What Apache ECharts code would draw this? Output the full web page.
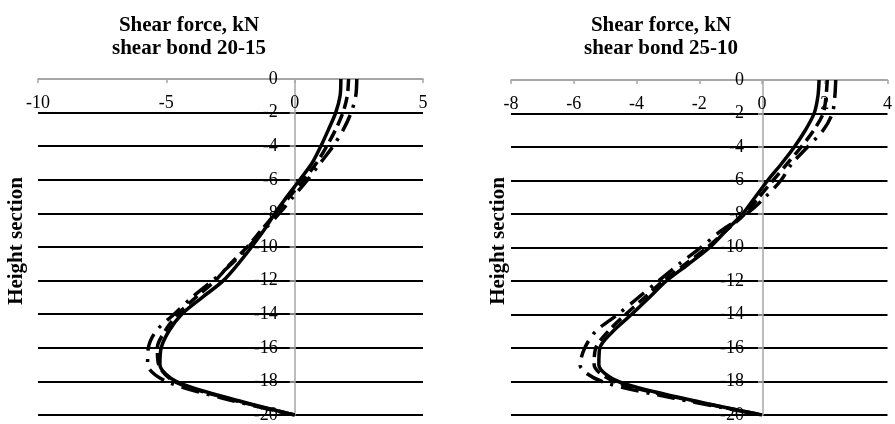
<!DOCTYPE html>
<html>
<head>
<meta charset="utf-8">
<script src="https://cdn.jsdelivr.net/npm/echarts@6/dist/echarts.min.js"></script>
<style>
  html, body { margin: 0; padding: 0; background: #fff; }
  #chart { width: 895px; height: 424px; }
</style>
</head>
<body>
<div id="chart"></div>
<script>
// 高度截面 (y)
const heights = [0, -1, -2, -3, -4, -5, -6, -7, -8, -9, -10, -11, -12, -13, -14, -15, -16, -17, -18, -19, -20];

// shear bond 20-15
const leftSolid = [1.8, 1.77, 1.6, 1.32, 1.02, 0.68, 0.2, -0.3, -0.77, -1.2, -1.68, -2.2, -2.78, -3.6, -4.4, -4.9, -5.2, -5.25, -4.62, -2.55, 0];
const leftDash = [2.1, 2.05, 1.88, 1.6, 1.25, 0.85, 0.35, -0.2, -0.75, -1.3, -1.85, -2.5, -3.1, -3.85, -4.55, -5.05, -5.35, -5.3, -4.7, -2.65, 0];
const leftDashDot = [2.42, 2.38, 2.2, 1.9, 1.5, 1.0, 0.5, -0.05, -0.6, -1.2, -1.8, -2.45, -3.2, -4.0, -4.7, -5.4, -5.7, -5.73, -5.0, -2.8, 0];

// shear bond 25-10
const rightSolid = [1.82, 1.78, 1.66, 1.38, 1.03, 0.62, 0.18, -0.22, -0.62, -1.15, -1.67, -2.35, -3.05, -3.6, -4.16, -4.75, -5.17, -5.2, -4.58, -2.52, 0];
const rightDash = [2.08, 2.04, 1.95, 1.65, 1.25, 0.8, 0.35, -0.1, -0.55, -1.15, -1.75, -2.45, -3.15, -3.75, -4.35, -4.9, -5.3, -5.35, -4.7, -2.6, 0];
const rightDashDot = [2.35, 2.32, 2.24, 1.95, 1.45, 0.95, 0.6, 0.1, -0.5, -1.3, -1.95, -2.65, -3.3, -3.95, -4.6, -5.3, -5.65, -5.8, -5.1, -2.8, 0];

const titles = ["Shear force, kN\nshear bond 20-15", "Shear force, kN\nshear bond 25-10"];
const yName = "Height section";

const FONT = "'Liberation Serif', 'Times New Roman', serif";
const GRAY = "#a6a6a6";

const pairs = (xs) => xs.map((x, i) => [x, heights[i]]);

function xAxisOpt(gridIndex, min, max, interval) {
  return {
    gridIndex: gridIndex,
    type: "value",
    position: "top",
    min: min,
    max: max,
    interval: interval,
    axisLine: { onZero: false, lineStyle: { color: GRAY, width: 1.5 } },
    axisTick: { inside: true, length: 4, lineStyle: { color: GRAY, width: 1.5 } },
    axisLabel: { inside: true, margin: 15, color: "#000", fontFamily: FONT, fontSize: 18 },
    splitLine: { show: false },
  };
}

// y 轴放在 x=0 处 (用 offset 把它从网格左边移过去)
function yAxisOpt(gridIndex, offset, margin) {
  return {
    gridIndex: gridIndex,
    type: "value",
    position: "left",
    offset: offset,
    min: -20,
    max: 0,
    interval: 2,
    axisLine: { onZero: false, lineStyle: { color: GRAY, width: 1.5 } },
    axisTick: { show: true, length: 5, lineStyle: { color: GRAY, width: 1.5 } },
    axisLabel: { margin: margin, color: "#000", fontFamily: FONT, fontSize: 18 },
    splitLine: {
      show: true,
      // 最上面一条 (0) 是灰色坐标轴
      lineStyle: {
        color: ["#000", "#000", "#000", "#000", "#000", "#000", "#000", "#000", "#000", "#000", GRAY],
        width: 2,
      },
    },
  };
}

function lineSeries(idx, data, type) {
  return {
    type: "line",
    xAxisIndex: idx,
    yAxisIndex: idx,
    data: pairs(data),
    smooth: 0.3,
    symbol: "none",
    lineStyle: { color: "#000", width: 3.5, type: type },
    z: 3,
  };
}

const chart = echarts.init(document.getElementById("chart"));
chart.setOption({
  animation: false,
  backgroundColor: "#fff",
  title: [
    {
      text: titles[0],
      left: 184,
      top: 9,
      textAlign: "center",
      textStyle: { fontFamily: FONT, fontWeight: "bold", fontSize: 21, lineHeight: 23, color: "#000" },
    },
    {
      text: titles[1],
      left: 656,
      top: 9,
      textAlign: "center",
      textStyle: { fontFamily: FONT, fontWeight: "bold", fontSize: 21, lineHeight: 23, color: "#000" },
    },
  ],
  graphic: [
    {
      type: "text",
      x: 17,
      y: 241,
      rotation: Math.PI / 2,
      style: { text: yName, font: "bold 21px " + FONT, fill: "#000", align: "center", verticalAlign: "middle" },
    },
    {
      type: "text",
      x: 499,
      y: 241,
      rotation: Math.PI / 2,
      style: { text: yName, font: "bold 21px " + FONT, fill: "#000", align: "center", verticalAlign: "middle" },
    },
  ],
  grid: [
    { left: 38, top: 79, width: 385, height: 340, containLabel: false },
    { left: 511, top: 80, width: 378, height: 341, containLabel: false },
  ],
  xAxis: [xAxisOpt(0, -10, 5, 5), xAxisOpt(1, -8, 4, 2)],
  yAxis: [yAxisOpt(0, -256.7, 17), yAxisOpt(1, -252, 19)],
  series: [
    lineSeries(0, leftSolid, "solid"),
    lineSeries(0, leftDash, [12, 6]),
    lineSeries(0, leftDashDot, [18, 8, 3, 8]),
    lineSeries(1, rightSolid, "solid"),
    lineSeries(1, rightDash, [12, 6]),
    lineSeries(1, rightDashDot, [18, 8, 3, 8]),
  ],
});
</script>
</body>
</html>
